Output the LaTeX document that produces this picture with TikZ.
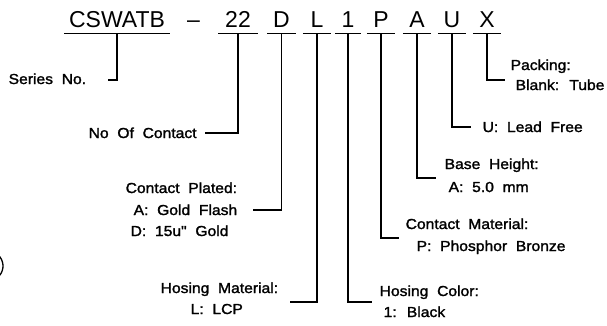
\documentclass[tikz,border=0pt]{standalone}
\usepackage{fontspec}
\newfontfamily\labfont[FakeStretch=1.08,WordSpace=2,FakeBold=1.6]{Liberation Sans}
\newfontfamily\codefont{Liberation Sans}
\begin{document}
\begin{tikzpicture}[x=1pt,y=-1pt,line width=1.3pt,
  code/.style={font=\codefont\fontsize{23}{23}\selectfont, inner sep=0pt,
    text height=16.5pt, text depth=6pt, anchor=base, minimum width=27pt},
  lab/.style={font=\labfont\fontsize{14.5}{16}\selectfont, inner sep=0pt, anchor=base west},
  uline/.style={line width=1.3pt},
  conn/.style={line width=1.3pt}]
\useasboundingbox (0,0) rectangle (607,325);
% code letters
\node[code, minimum width=104pt] (cS) at (117,27) {CSWATB};
\node[code, minimum width=14pt] (cDash) at (193.5,27) {–};
\node[code, minimum width=38pt] (c22) at (238,27) {22};
\node[code] (cD) at (281.5,27) {D};
\node[code] (cL) at (317,27) {L};
\node[code, minimum width=24pt] (c1) at (348,27) {1};
\node[code] (cP) at (381,27) {P};
\node[code] (cA) at (417,27) {A};
\node[code] (cU) at (452,27) {U};
\node[code] (cX) at (487,27) {X};
\foreach \n in {cS,c22,cD,cL,c1,cP,cA,cU,cX}
  \draw[uline] (\n.south west) -- (\n.south east);
% labels
\node[lab] (lS) at (8,84) {Series No.};
\node[lab] (l22) at (88,138) {No Of Contact};
\node[lab] (lD1) at (125,193) {Contact Plated:};
\node[lab] (lD2) at (133,215) {A: Gold Flash};
\node[lab] (lD3) at (130,236) {D: 15u" Gold};
\node[lab] (lL1) at (160,293) {Hosing Material:};
\node[lab] (lL2) at (190,314) {L: LCP};
\node[lab] (l11) at (379,296) {Hosing Color:};
\node[lab] (l12) at (383,317) {1: Black};
\node[lab] (lP1) at (405,229) {Contact Material:};
\node[lab] (lP2) at (416,251) {P: Phosphor Bronze};
\node[lab] (lA1) at (444,169) {Base Height:};
\node[lab] (lA2) at (448,192) {A: 5.0 mm};
\node[lab] (lU) at (482,132) {U: Lead Free};
\node[lab] (lX1) at (510,70) {Packing:};
\node[lab] (lX2) at (515,90) {Blank: Tube};
% connector ends
\coordinate (eS) at (108,80);
\coordinate (e22) at (205,133);
\coordinate (eD) at (253,210);
\coordinate (eL) at (290,302);
\coordinate (e1) at (372,302);
\coordinate (eP) at (399,238);
\coordinate (eA) at (436,178);
\coordinate (eU) at (471,127);
\coordinate (eX) at (505,80);
\draw[conn] (cS.south) |- (eS);
\draw[conn] (c22.south) |- (e22);
\draw[conn] (cD.south) |- (eD);
\draw[conn] (cL.south) |- (eL);
\draw[conn] (c1.south) |- (e1);
\draw[conn] (cP.south) |- (eP);
\draw[conn] (cA.south) |- (eA);
\draw[conn] (cU.south) |- (eU);
\draw[conn] (cX.south) |- (eX);
% fragment at left edge
\draw[line width=1.3pt] (-12,266) ++(-60:15) arc[start angle=-60,end angle=60,radius=15];
\end{tikzpicture}
\end{document}
